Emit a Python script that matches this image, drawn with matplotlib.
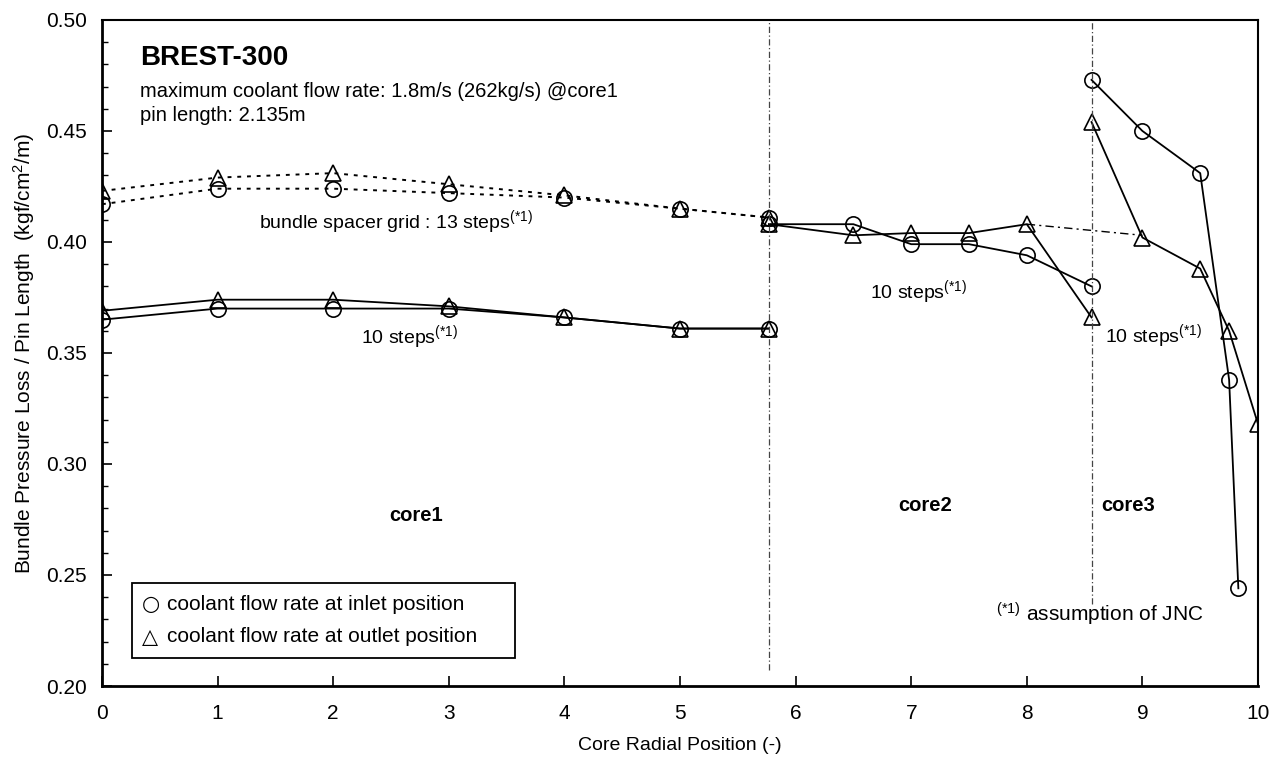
import matplotlib
matplotlib.use("Agg")
import matplotlib.pyplot as plt
from matplotlib.patches import Rectangle

plt.rcParams['font.family'] = ['Liberation Sans', 'DejaVu Sans']
plt.rcParams['mathtext.fontset'] = 'custom'
plt.rcParams['mathtext.rm'] = 'Liberation Sans'
plt.rcParams['mathtext.it'] = 'Liberation Sans:italic'
plt.rcParams['mathtext.bf'] = 'Liberation Sans:bold'

# Zone boundaries on the radial axis
core1_edge = 5.77
core2_edge = 8.56

# core1, spacer grid with 13 steps (dotted)
grid13_x = [0, 1, 2, 3, 4, 5, core1_edge]
grid13_inlet = [0.417, 0.424, 0.424, 0.422, 0.420, 0.415, 0.411]
grid13_outlet = [0.423, 0.429, 0.431, 0.426, 0.421, 0.415, 0.411]

# core1, 10 steps (solid)
core1_x = [0, 1, 2, 3, 4, 5, core1_edge]
core1_inlet = [0.365, 0.370, 0.370, 0.370, 0.366, 0.361, 0.361]
core1_outlet = [0.369, 0.374, 0.374, 0.371, 0.366, 0.361, 0.361]

# core2, 10 steps (solid)
core2_x = [core1_edge, 6.5, 7, 7.5, 8, core2_edge]
core2_inlet = [0.408, 0.408, 0.399, 0.399, 0.394, 0.380]
core2_outlet = [0.408, 0.403, 0.404, 0.404, 0.408, 0.366]

# core3, 10 steps (solid)
core3_inlet_x = [core2_edge, 9, 9.5, 9.75, 9.83]
core3_inlet = [0.473, 0.450, 0.431, 0.338, 0.244]
core3_outlet_x = [core2_edge, 9, 9.5, 9.75, 10]
core3_outlet = [0.454, 0.402, 0.388, 0.360, 0.318]

# spacer-grid link between core2 and core3 (dash-dot)
link_x = [8, 9]
link_y = [0.408, 0.403]

x_ticks = list(range(0, 11))
y_ticks = [0.20, 0.25, 0.30, 0.35, 0.40, 0.45, 0.50]

legend_symbols = ['\u25CB', '\u25B3']
legend_labels = ['coolant flow rate at inlet position',
                 'coolant flow rate at outlet position']

fig = plt.figure(figsize=(12.76, 7.67), dpi=100)
ax = fig.add_axes([0.0799, 0.1056, 0.9060, 0.8684])

mk = dict(markersize=11, markerfacecolor='none', markeredgecolor='black',
          markeredgewidth=1.2, color='black')

ax.plot(grid13_x, grid13_inlet, linestyle=(0, (2, 3)), lw=1.4, marker='o', **mk)
ax.plot(grid13_x, grid13_outlet, linestyle=(0, (2, 3)), lw=1.4, marker='^', **mk)

ax.plot(core1_x, core1_inlet, linestyle='-', lw=1.3, marker='o', **mk)
ax.plot(core1_x, core1_outlet, linestyle='-', lw=1.3, marker='^', **mk)

ax.plot(core2_x, core2_inlet, linestyle='-', lw=1.3, marker='o', **mk)
ax.plot(core2_x, core2_outlet, linestyle='-', lw=1.3, marker='^', **mk)

ax.plot(core3_inlet_x, core3_inlet, linestyle='-', lw=1.3, marker='o', **mk)
ax.plot(core3_outlet_x, core3_outlet, linestyle='-', lw=1.3, marker='^', **mk)

ax.plot(link_x, link_y, linestyle=(0, (6, 3, 1.5, 3)), lw=1.0, color='black')

# zone separators (the core2/core3 one stops above the footnote)
sep_style = dict(linestyle=(0, (5, 2, 1, 2)), lw=0.9, color='#444444')
ax.plot([core1_edge, core1_edge], [0.207, 0.50], **sep_style)
ax.plot([core2_edge, core2_edge], [0.237, 0.50], **sep_style)

ax.set_xlim(0, 10)
ax.set_ylim(0.20, 0.50)
ax.set_xticks(x_ticks)
ax.set_xticklabels([str(v) for v in x_ticks])
ax.set_yticks(y_ticks)
ax.set_yticklabels([f"{v:.2f}" for v in y_ticks])
ax.set_yticks([0.20 + 0.01 * i for i in range(31)], minor=True)
ax.tick_params(axis='both', which='major', direction='in', length=7, width=1.2,
               labelsize=15)
ax.tick_params(axis='y', which='major', pad=11)
ax.tick_params(axis='x', which='major', pad=13)
ax.tick_params(axis='y', which='minor', direction='in', length=4, width=1.0)
ax.tick_params(top=False, right=False)
for side in ('left', 'bottom'):
    ax.spines[side].set_linewidth(2.0)
for side in ('top', 'right'):
    ax.spines[side].set_linewidth(1.5)

ax.set_xlabel('Core Radial Position (-)', fontsize=14, labelpad=10)
ax.set_ylabel(r'Bundle Pressure Loss / Pin Length  (kgf/cm$^{2}$/m)',
              fontsize=15, labelpad=6)

ax.text(0.33, 0.4829, 'BREST-300', fontsize=20, fontweight='bold', va='center')
ax.text(0.33, 0.4676, 'maximum coolant flow rate: 1.8m/s (262kg/s) @core1',
        fontsize=14.5, va='center')
ax.text(0.33, 0.4568, 'pin length: 2.135m', fontsize=14.5, va='center')

ax.text(1.36, 0.409, r'bundle spacer grid : 13 steps$^{\mathrm{(*1)}}$',
        fontsize=14, va='center')
ax.text(2.24, 0.3572, r'10 steps$^{\mathrm{(*1)}}$', fontsize=14, va='center')
ax.text(6.64, 0.3775, r'10 steps$^{\mathrm{(*1)}}$', fontsize=14, va='center')
ax.text(8.68, 0.3577, r'10 steps$^{\mathrm{(*1)}}$', fontsize=14, va='center')

ax.text(2.72, 0.277, 'core1', fontsize=14.5, fontweight='bold',
        ha='center', va='center')
ax.text(7.12, 0.2815, 'core2', fontsize=14.5, fontweight='bold',
        ha='center', va='center')
ax.text(8.88, 0.2815, 'core3', fontsize=14.5, fontweight='bold',
        ha='center', va='center')

ax.text(7.73, 0.2324, r'$^{\mathrm{(*1)}}$ assumption of JNC', fontsize=15,
        va='center')

# legend box drawn by hand: symbol glyph, then the description
ax.add_patch(Rectangle((0.26, 0.2126), 3.31, 0.0338, facecolor='white',
                       edgecolor='black', linewidth=1.3, zorder=3))
for sym, label, yy in zip(legend_symbols, legend_labels, [0.2369, 0.2221]):
    ax.text(0.346, yy, sym, fontsize=15, va='center', zorder=4,
            family='DejaVu Sans')
    ax.text(0.56, yy, label, fontsize=15, va='center', zorder=4)

fig.savefig('out.png', dpi=100)
